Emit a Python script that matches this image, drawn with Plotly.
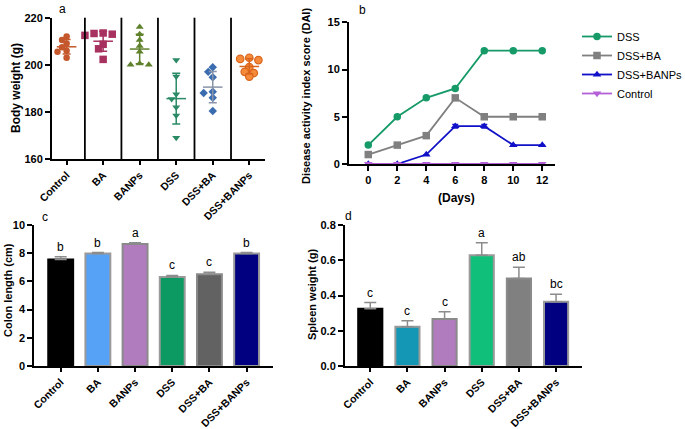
import numpy as np
import plotly.graph_objects as go

# ---------------- data ----------------
groups = ["Control", "BA", "BANPs", "DSS", "DSS+BA", "DSS+BANPs"]

bw_control = [212, 210.5, 209, 207.5, 206, 205.5, 203]
bw_ba = [213.5, 213.3, 213, 212.5, 208.7, 206.8, 202.3]
bw_banps = [216, 213, 210.5, 208, 205.5, 200.5, 200, 200]
bw_dss = [202, 195, 187.5, 185.5, 182, 178.5, 169]
bw_dss_ba = [199, 197, 194.7, 188.6, 188, 186, 180.4]
bw_dss_banps = [203, 202.5, 202, 199, 197, 196.5, 195]
bw_all = [bw_control, bw_ba, bw_banps, bw_dss, bw_dss_ba, bw_dss_banps]

days = [0, 2, 4, 6, 8, 10, 12]
dai_dss = [2, 5, 7, 8, 12, 12, 12]
dai_dss_ba = [1, 2, 3, 7, 5, 5, 5]
dai_dss_banps = [0, 0, 1, 4, 4, 2, 2]
dai_dss_banps_err = [0, 0, 0, 0.2, 0.2, 0, 0]
dai_control = [0, 0, 0, 0, 0, 0, 0]
dai_names = ["DSS", "DSS+BA", "DSS+BANPs", "Control"]

colon_mean = [7.55, 7.97, 8.65, 6.32, 6.5, 7.97]
colon_err = [0.2, 0.08, 0.1, 0.1, 0.15, 0.08]
colon_letters = ["b", "b", "a", "c", "c", "b"]

spleen_mean = [0.325, 0.223, 0.267, 0.628, 0.497, 0.365]
spleen_err = [0.035, 0.034, 0.041, 0.072, 0.063, 0.042]
spleen_letters = ["c", "c", "c", "a", "ab", "bc"]

# ---------------- styles ----------------
FONT = "Liberation Sans, Arial, sans-serif"
W, H = 685, 429

pt_colors = ["#c4582c", "#a8325f", "#5f812c", "#2a8a66", "#3a6db0", "#f58a3a"]
pt_lines = ["#c4582c", "#a8325f", "#5f812c", "#2a8a66", "#3a6db0", "#d9651c"]
pt_symbols = ["circle", "square", "triangle-up", "triangle-down", "diamond", "circle"]
pt_sizes = [6.5, 7.5, 7, 7, 6.5, 7.5]

colon_colors = ["#000000", "#55a2f7", "#b07cbe", "#0c9a62", "#626262", "#000080"]
spleen_colors = ["#000000", "#1497b4", "#b07cbe", "#10c07a", "#808080", "#000080"]
bar_lines = ["#000000", "#9a9a9a", "#8a8a8a", "#9a9a9a", "#8a8a8a", "#9a9a9a"]

dai_colors = ["#159a68", "#808080", "#1010c8", "#b45fd8"]
dai_symbols = ["circle", "square", "triangle-up", "triangle-down"]


def px_x(p):
    return p / W


def px_y(p):
    return 1 - p / H


def swarm(vals, ypx, xpx, diam):
    placed = []
    offs = []
    cands = [0]
    for k in range(1, 6):
        cands += [-k * diam * 0.7, k * diam * 0.7]
    for v in vals:
        chosen = cands[-1]
        for c in cands:
            if all(np.hypot(c - pc, (v - pv) * ypx) >= diam * 0.8 for pc, pv in placed):
                chosen = c
                break
        placed.append((chosen, v))
        offs.append(chosen / xpx)
    return offs


fig = go.Figure()

# ---------------- panel a ----------------
for i, vals in enumerate(bw_all):
    offs = swarm(vals, 2.35, 36.5, 6.5)
    fig.add_trace(go.Scatter(
        x=[i + o for o in offs], y=vals, mode="markers",
        marker=dict(symbol=pt_symbols[i], size=pt_sizes[i], color=pt_colors[i],
                    line=dict(color=pt_lines[i], width=1.2 if i == 5 else 0)),
        xaxis="x", yaxis="y", showlegend=False, cliponaxis=False))
    m = float(np.mean(vals))
    sd = float(np.std(vals, ddof=1))
    ecol = "#8a94a8" if i == 4 else pt_lines[i]
    fig.add_trace(go.Scatter(
        x=[i], y=[m], mode="markers",
        marker=dict(symbol="line-ew", size=14, line=dict(color=ecol, width=1.5)),
        error_y=dict(type="data", array=[sd], color=ecol, thickness=1.5, width=4),
        xaxis="x", yaxis="y", showlegend=False, cliponaxis=False))

shapes = []
for k in range(5):
    shapes.append(dict(type="line", xref="x", yref="y domain", x0=k + 0.5, x1=k + 0.5,
                       y0=0, y1=1, line=dict(color="black", width=1.8)))

# ---------------- panel b ----------------
dai_series = [dai_dss, dai_dss_ba, dai_dss_banps, dai_control]
for j, ser in enumerate(dai_series):
    tr = dict(x=days, y=ser, mode="lines+markers", name=dai_names[j],
              line=dict(color=dai_colors[j], width=1.8),
              marker=dict(symbol=dai_symbols[j], size=7.5, color=dai_colors[j]),
              xaxis="x2", yaxis="y2", cliponaxis=False)
    if j == 2:
        tr["error_y"] = dict(type="data", array=dai_dss_banps_err, color=dai_colors[j],
                             thickness=1.2, width=3)
    fig.add_trace(go.Scatter(**tr))

# ---------------- panel c ----------------
fig.add_trace(go.Bar(
    x=list(range(6)), y=colon_mean, width=0.67,
    marker=dict(color=colon_colors, line=dict(color=bar_lines, width=2)),
    error_y=dict(type="data", symmetric=False, array=colon_err, arrayminus=[0] * 6,
                 color="#8c8c8c", thickness=1.5, width=6),
    xaxis="x3", yaxis="y3", showlegend=False))

# ---------------- panel d ----------------
fig.add_trace(go.Bar(
    x=list(range(6)), y=spleen_mean, width=0.65,
    marker=dict(color=spleen_colors, line=dict(color=bar_lines, width=2)),
    error_y=dict(type="data", symmetric=False, array=spleen_err, arrayminus=[0] * 6,
                 color="#8c8c8c", thickness=1.5, width=6),
    xaxis="x4", yaxis="y4", showlegend=False))

annotations = []
for i in range(6):
    annotations.append(dict(x=i, y=colon_mean[i] + colon_err[i], xref="x3", yref="y3",
                            text=colon_letters[i], showarrow=False, yanchor="bottom",
                            yshift=1, font=dict(size=12, color="black", family=FONT)))
    annotations.append(dict(x=i, y=spleen_mean[i] + spleen_err[i], xref="x4", yref="y4",
                            text=spleen_letters[i], showarrow=False, yanchor="bottom",
                            yshift=1, font=dict(size=12, color="black", family=FONT)))

for lab, xp, yp in [("a", 57, 9), ("b", 357, 10), ("c", 40, 217), ("d", 343, 216)]:
    annotations.append(dict(x=px_x(xp), y=px_y(yp), xref="paper", yref="paper",
                            text=lab, showarrow=False, xanchor="left", yanchor="middle",
                            font=dict(size=12, color="black", family=FONT)))

bold = dict(color="black", family=FONT, weight="bold")
axis_titles = [
    ("Body weight (g)", 16, 88, -90, 12),
    ("Disease activity index score (DAI)", 306, 96, -90, 11),
    ("(Days)", 456, 198, 0, 12),
    ("Colon length (cm)", 8, 290, -90, 11),
    ("Spleen weight (g)", 312, 295, -90, 11),
]
for txt, xp, yp, ang, sz in axis_titles:
    annotations.append(dict(x=px_x(xp), y=px_y(yp), xref="paper", yref="paper",
                            text=txt, showarrow=False, xanchor="center", yanchor="middle",
                            textangle=ang, font=dict(bold, size=sz)))

tickfont = dict(bold, size=11)
cat_tickfont = dict(bold, size=10.5)

axis_common = dict(showgrid=False, zeroline=False, showline=True, linecolor="black",
                   linewidth=2, ticks="outside", tickcolor="black", tickwidth=1.8,
                   ticklen=5, tickfont=tickfont, automargin=False)
cat_axis = dict(axis_common, tickfont=cat_tickfont, ticklen=4,
                tickvals=list(range(6)), ticktext=groups, tickangle=-45)

fig.update_layout(
    width=W, height=H, margin=dict(l=0, r=0, t=0, b=0, autoexpand=False),
    paper_bgcolor="white", plot_bgcolor="white",
    font=dict(family=FONT, color="black"),
    shapes=shapes, annotations=annotations,
    xaxis=dict(cat_axis, domain=[px_x(52), px_x(265)], range=[-0.4, 5.43], anchor="y"),
    yaxis=dict(axis_common, domain=[px_y(159), px_y(17.7)], range=[160, 220],
               tickvals=[160, 180, 200, 220], anchor="x"),
    xaxis2=dict(axis_common, domain=[px_x(349), px_x(555)], range=[-1.33, 12.88],
                tickvals=days, anchor="y2"),
    yaxis2=dict(axis_common, domain=[px_y(164), px_y(22.3)], range=[0, 15],
                tickvals=[0, 5, 10, 15], anchor="x2"),
    xaxis3=dict(cat_axis, domain=[px_x(34.3), px_x(273)], range=[-0.71, 5.71], anchor="y3"),
    yaxis3=dict(axis_common, domain=[px_y(366), px_y(225)], range=[0, 10],
                tickvals=[0, 2, 4, 6, 8, 10], anchor="x3"),
    xaxis4=dict(cat_axis, domain=[px_x(345), px_x(581.7)], range=[-0.68, 5.69], anchor="y4"),
    yaxis4=dict(axis_common, domain=[px_y(366), px_y(225)], range=[0, 0.8],
                tickvals=[0, 0.2, 0.4, 0.6, 0.8], tickformat=".1f", anchor="x4"),
    legend=dict(x=px_x(577), y=px_y(22), xanchor="left", yanchor="top",
                font=dict(size=11, color="black", family=FONT),
                bgcolor="rgba(0,0,0,0)", tracegroupgap=0, itemwidth=30),
    bargap=0.3,
)

fig.write_html("out.html", config={"displayModeBar": False},
               post_script="document.body.style.margin='0px';document.body.style.overflow='hidden';")
